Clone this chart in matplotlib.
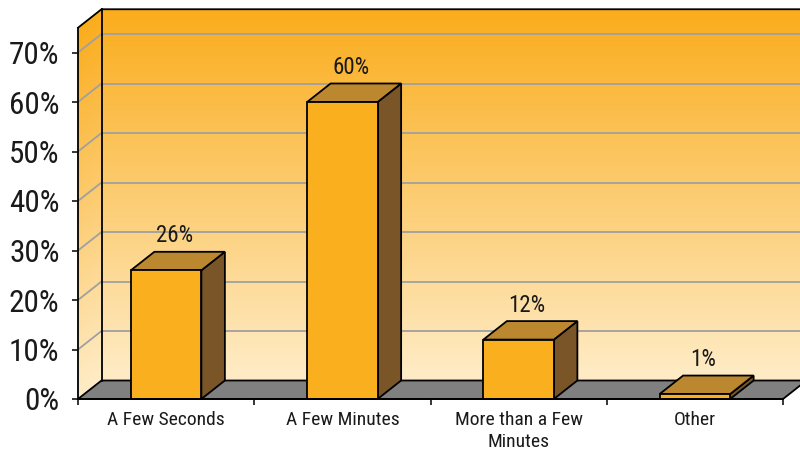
import matplotlib
matplotlib.use("Agg")
import matplotlib.pyplot as plt
from matplotlib.patches import Polygon
from matplotlib.collections import PolyCollection
from matplotlib import font_manager
import numpy as np

# ---- data ----
categories = ["A Few Seconds", "A Few Minutes", "More than a Few\nMinutes", "Other"]
values = [26, 60, 12, 1]
y_ticks = [0, 10, 20, 30, 40, 50, 60, 70]
y_tick_labels = [f"{t}%" for t in y_ticks]
y_max = 75

# ---- fonts: prefer a narrow sans ----
available = {f.name for f in font_manager.fontManager.ttflist}
narrow = next((f for f in ["Liberation Sans Narrow", "DejaVu Sans Condensed",
                           "Noto Sans Condensed", "Roboto Condensed"]
               if f in available), "DejaVu Sans")
plt.rcParams["font.family"] = [narrow, "DejaVu Sans"]

# ---- colours ----
FRONT = "#F9AF1E"
TOP = "#BC882F"
SIDE = "#7A5527"
FLOOR = "#808080"
GRID = "#A0A0A0"
WALL_TOP = np.array([250, 172, 27]) / 255
WALL_BOTTOM = np.array([254, 236, 200]) / 255

fig = plt.figure(figsize=(8, 4.53), dpi=100)
ax = fig.add_axes([78 / 800, 54 / 453, 705 / 800, 371.25 / 453])
ax.set_xlim(0, len(categories))
ax.set_ylim(0, y_max)
ax.patch.set_visible(False)

# depth offset of the 3-D projection, in data units
DX = 23.5 / 176.25
DY = 18.5 / 4.95
n_cat = len(categories)

# ---- gradient walls (back wall and left side wall) ----
n = 150
edges = np.linspace(0, y_max, n + 1)
strips, cols = [], []
for v0, v1 in zip(edges[:-1], edges[1:]):
    t = (0.5 * (v0 + v1)) / y_max
    c = WALL_BOTTOM * (1 - t) + WALL_TOP * t
    strips.append([(DX, v0 + DY), (n_cat + DX, v0 + DY), (n_cat + DX, v1 + DY), (DX, v1 + DY)])
    cols.append(c)
    strips.append([(0, v0), (DX, v0 + DY), (DX, v1 + DY), (0, v1)])
    cols.append(c)
walls = PolyCollection(strips, facecolors=cols, edgecolors=cols, linewidths=0.6,
                       clip_on=False, zorder=1)
ax.add_collection(walls)

# ---- gridlines ----
for g in y_ticks[1:]:
    ax.plot([DX, n_cat + DX], [g + DY, g + DY], color=GRID, lw=1.3, clip_on=False, zorder=2)
    ax.plot([0, DX], [g, g + DY], color=GRID, lw=1.3, clip_on=False, zorder=2)

# ---- floor ----
floor = Polygon([(0, 0), (n_cat, 0), (n_cat + DX, DY), (DX, DY)], closed=True,
                facecolor=FLOOR, edgecolor="black", lw=1.3, clip_on=False, zorder=3)
ax.add_patch(floor)

# ---- wall outlines ----
ax.plot([DX, DX], [DY, y_max + DY], color="black", lw=1.3, clip_on=False, zorder=3)
ax.plot([0, DX, n_cat + DX], [y_max, y_max + DY, y_max + DY], color="black", lw=1.3,
        clip_on=False, zorder=3)

# ---- 3-D bars ----
bw = 0.4
for i, v in enumerate(values):
    c = i + 0.5
    x0, x1 = c - bw / 2, c + bw / 2
    side = Polygon([(x1, 0), (x1 + DX, DY), (x1 + DX, v + DY), (x1, v)], closed=True,
                   facecolor=SIDE, edgecolor="black", lw=1.3, clip_on=False, zorder=5)
    top = Polygon([(x0, v), (x0 + DX, v + DY), (x1 + DX, v + DY), (x1, v)], closed=True,
                  facecolor=TOP, edgecolor="black", lw=1.3, clip_on=False, zorder=5)
    front = Polygon([(x0, 0), (x1, 0), (x1, v), (x0, v)], closed=True,
                    facecolor=FRONT, edgecolor="black", lw=1.3, clip_on=False, zorder=6)
    for p in (side, top, front):
        ax.add_patch(p)
    ax.text(c + DX * 0.35, v + DY + 1.9, f"{v}%", ha="center", va="baseline",
            fontsize=16.5, color="#1a1a1a", zorder=7)

# ---- axes, ticks and labels ----
for s in ("top", "right"):
    ax.spines[s].set_visible(False)
for s in ("left", "bottom"):
    ax.spines[s].set_linewidth(1.3)
    ax.spines[s].set_color("black")
    ax.spines[s].set_zorder(6)

ax.set_yticks(y_ticks, y_tick_labels)
ax.tick_params(axis="y", length=4.3, width=1.1, pad=9.0, labelsize=22.5,
               labelcolor="#1a1a1a", color="black")

ax.set_xticks(range(n_cat + 1), [""] * (n_cat + 1))
ax.set_xticks([i + 0.5 for i in range(n_cat)], categories, minor=True)
ax.tick_params(axis="x", which="major", length=4, width=1.1, color="black")
ax.tick_params(axis="x", which="minor", length=0, pad=8.5, labelsize=14,
               labelcolor="#1a1a1a")
for lbl in ax.get_xticklabels(minor=True):
    lbl.set_linespacing(1.3)

fig.savefig("out.png", dpi=100)
